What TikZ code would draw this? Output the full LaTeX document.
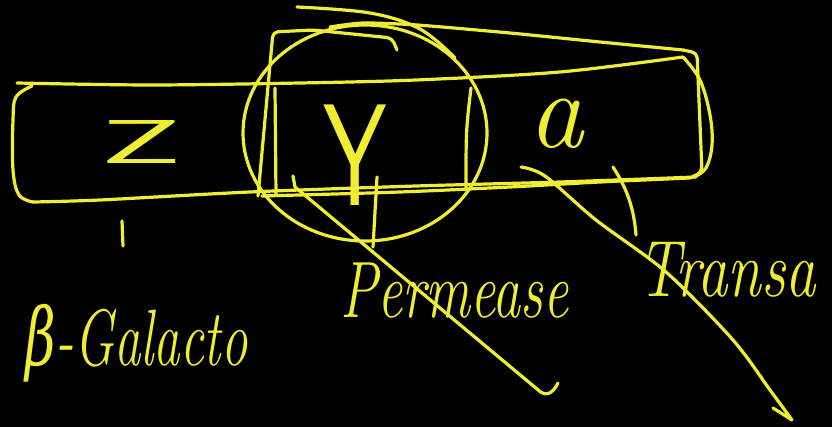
\documentclass[tikz,border=0pt]{standalone}
\usepackage{fontspec}
\usepackage{graphicx}
\newfontfamily\grkfont{DejaVu Serif}
\definecolor{hl}{RGB}{240,238,50}
\begin{document}
\begin{tikzpicture}[x=1pt,y=-1pt,
  pen/.style={draw=hl, line width=3.2pt, line cap=round, line join=round},
  lab/.style={text=hl, inner sep=0pt, font=\itshape\fontsize{80}{85}\selectfont},
  gene/.style={text=hl, inner sep=0pt}]
\fill[black] (0,0) rectangle (832,427);
\useasboundingbox (0,0) rectangle (832,427);
% long box
\draw[pen] plot[smooth, tension=0.5] coordinates {(17,83) (150,85) (300,83) (416,80) (560,72) (683,57)};
\draw[pen] plot[smooth, tension=0.6] coordinates {(683,57) (700,80) (710,115) (712,145) (706,168) (694,177)};
\draw[pen] plot[smooth, tension=0.5] coordinates {(696,177) (560,182) (416,186) (250,192) (100,200) (33,202)};
\draw[pen] plot[smooth, tension=0.6] coordinates {(33,202) (19,195) (13,170) (13,120) (16,97) (32,86)};
% circle and second box
\draw[pen] (365,133) ellipse [x radius=122, y radius=108];
\draw[pen] plot[smooth, tension=0.6] coordinates {(297,7) (370,13) (420,29) (455,58)};
\draw[pen] plot[smooth, tension=0.4] coordinates {(330,27) (363,23) (417,25) (510,33) (600,42) (683,50)};
\draw[pen, rounded corners=5pt] (683,50) -- (697,53) -- (702,172) -- (690,178);
\draw[pen] plot[smooth, tension=0.5] coordinates {(690,178) (600,182) (510,187) (400,192) (262,196)};
\draw[pen, rounded corners=5pt] (397,50) -- (392,38) -- (313,30) -- (273,32) -- (258,196);
\draw[pen] (275,88) -- (276,195);
\draw[pen] (471,88) .. controls (466,130) .. (466,190);
% gene letters
\node[gene, font=\sffamily\fontsize{62}{62}\selectfont] (z) at (141,142) {\scalebox{2.3}[1]{Z}};
\node[gene, font=\sffamily\fontsize{145}{145}\selectfont] (y) at (355,155) {\scalebox{0.7}[1]{Y}};
\node[gene, font=\itshape\fontsize{110}{110}\selectfont] (a) at (556,124) {a};
% labels
\node[lab, anchor=base west] (gal) at (25,365) {\scalebox{0.66}[1]{{\grkfont\itshape β}-Galacto}};
\node[lab, anchor=base west] (perm) at (340,318) {\scalebox{0.7}[1]{Permease}};
\node[lab, anchor=base west] (trans) at (637,297) {\scalebox{0.76}[1]{Transa}};
% pointers
\coordinate (zt1) at (122,221);
\coordinate (zt2) at (123,246);
\draw[pen] (zt1) -- (zt2);
\coordinate (ys) at (293,176);
\coordinate (yk) at (295,187);
\coordinate (ye) at (537,389);
\coordinate (yh) at (558,383);
\draw[pen] (ys) -- (yk) -- (ye) .. controls (545,397) and (552,395) .. (yh);
\coordinate (yt1) at (377,177);
\coordinate (yt2) at (373,247);
\draw[pen] (yt1) -- (yt2);
\coordinate (at1) at (613,167);
\coordinate (at2) at (636,235);
\draw[pen] (at1) .. controls (628,190) and (634,210) .. (at2);
\coordinate (as) at (521,167);
\coordinate (tip) at (792,420);
\coordinate (barb) at (773,408);
\draw[pen] plot[smooth, tension=0.5] coordinates {(521,167) (545,176) (596,220) (666,272) (733,340) (770,390) (792,420)} -- (barb);
\end{tikzpicture}
\end{document}
